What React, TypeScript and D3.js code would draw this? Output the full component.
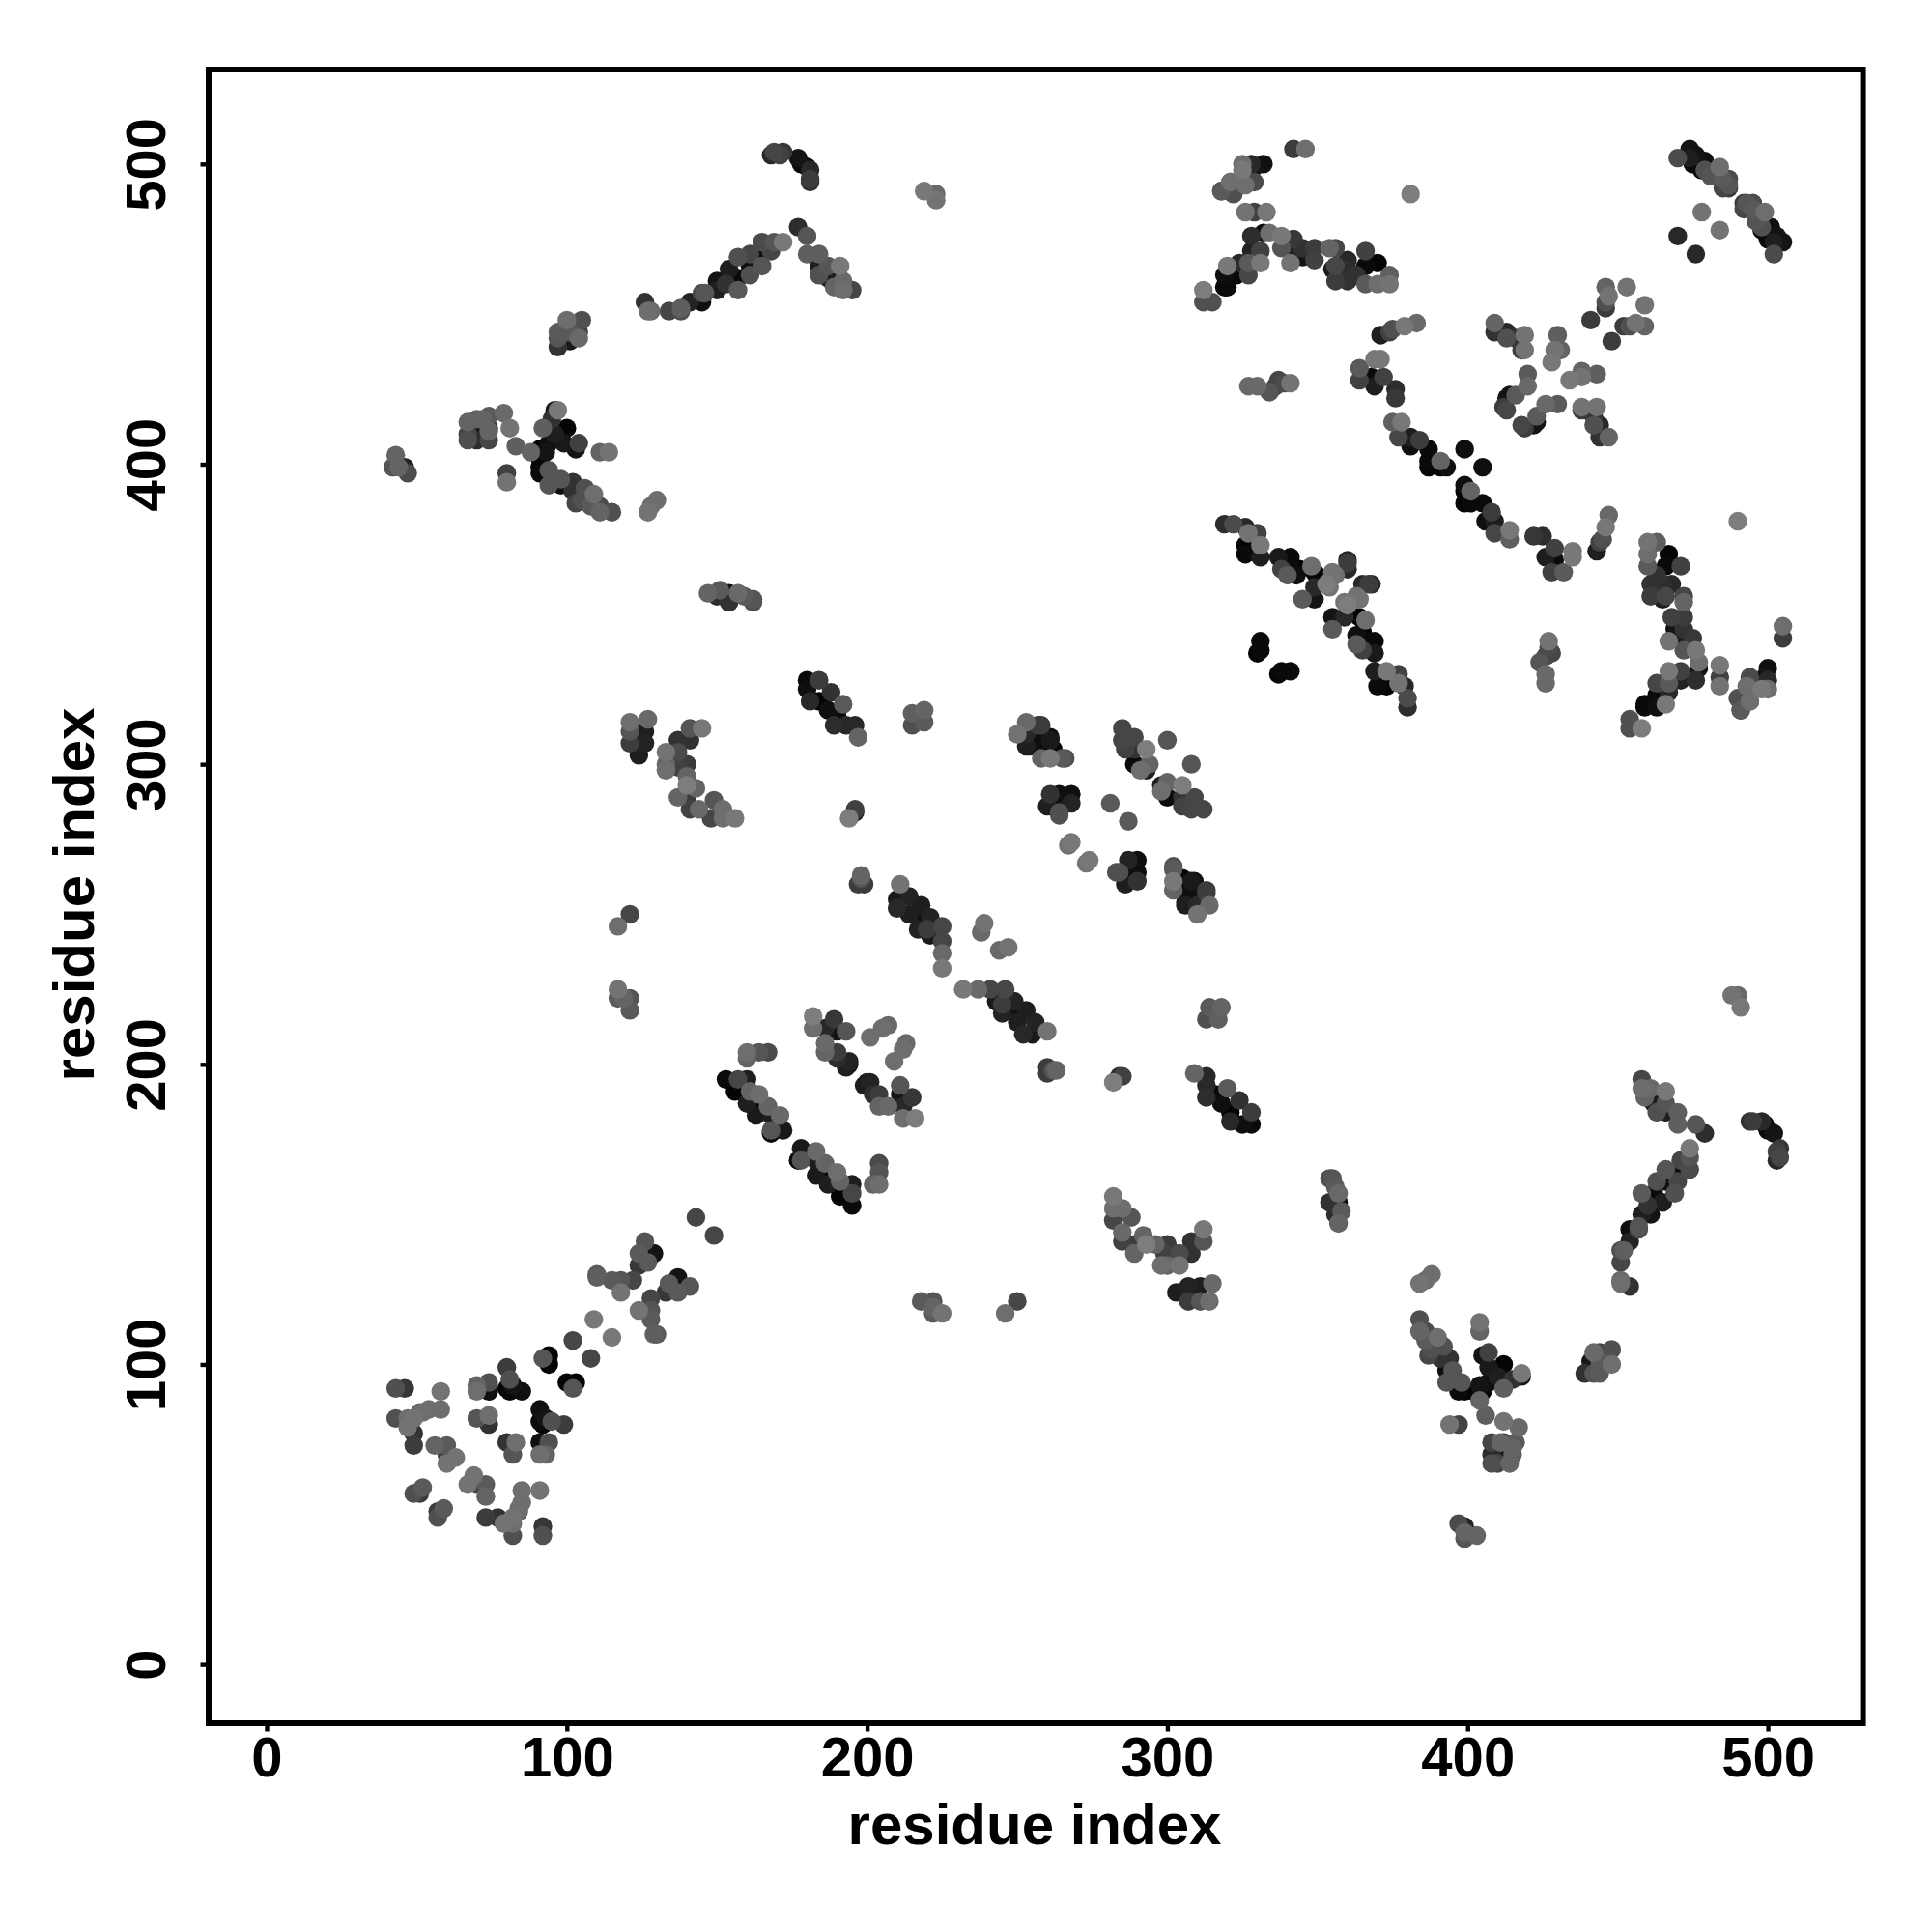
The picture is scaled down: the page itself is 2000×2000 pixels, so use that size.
import * as d3 from "d3";
import { useEffect, useRef } from "react";

// each contact is [residue i, residue j, grey level of the dot]; the map is symmetric
type Contact = [number, number, number];

const xTicks = [0, 100, 200, 300, 400, 500];
const yTicks = [0, 100, 200, 300, 400, 500];
const axisLabel = "residue index";

const nTerminalBlock: Contact[] = [
  [43,92,80],[46,92,55],[58,91,115],[43,82,80],[47,82,110],[51,84,100],[54,85,110],[58,85,110],[49,77,50],[49,73,60],
  [56,73,100],[60,73,90],[60,67,115],[63,69,115],[60,70,70],[51,57,60],[49,57,80],[52,59,90],[52,84,110],[49,82,115],[47,79,115],
  [70,93,100],[70,91,110],[74,94,80],[74,91,15],[80,99,60],[81,95,80],[80,92,5],[82,93,20],[85,91,15],[81,91,10],
  [70,82,85],[74,83,110],[74,80,50],[92,102,85],[94,103,5],[94,100,5],
];

const earlyDiagonal: Contact[] = [
  [126,141,85],[124,137,90],[129,137,20],[127,134,90],[124,133,55],[110,130,90],[110,129,95],[115,128,90],[118,124,115],[118,128,85],[122,128,70],
  [109,115,120],[102,108,70],[143,149,70],
];

const strandPairs: Contact[] = [
  [153,195,10],[157,195,70],[160,195,30],[156,191,5],[161,191,100],[164,190,110],[160,187,30],[163,187,5],[163,183,25],[167,186,100],[168,183,30],
  [171,183,105],[168,178,85],[168,177,10],[172,178,25],
  [160,204,110],[164,204,85],[167,204,75],[160,202,100],
  [182,216,125],[182,212,110],[189,215,55],[186,212,40],[190,211,20],[193,211,85],[186,207,105],[186,204,100],[190,204,60],[190,202,45],[194,201,35],[194,200,25],
  [201,209,110],[205,212,110],[207,213,105],[193,199,30],
  [117,246,110],[121,250,70],[117,225,115],[117,222,90],[121,222,85],[121,218,90],[119,222,100],
];

const middleHairpin: Contact[] = [
  [211,260,115],[214,256,35],[210,255,25],[210,252,40],[214,250,30],[218,253,30],[218,249,15],[217,245,35],[221,249,35],[221,243,25],[225,246,70],[225,241,70],[225,237,105],[225,232,120],
  [239,247,115],[238,244,105],[220,245,60],
];

const midLeftPatch: Contact[] = [
  [121,314,110],[127,315,105],[126,311,30],[121,311,85],[121,307,60],[124,307,20],[126,307,35],[124,303,30],[123,310,10],
  [141,312,85],[145,312,120],[137,308,50],[141,308,50],[133,304,115],[137,304,75],[133,298,110],[133,300,100],[137,299,65],[140,300,60],[140,296,100],[140,293,125],
  [143,292,100],[137,289,100],[140,289,60],[141,285,65],[144,285,105],[149,288,85],[148,282,70],[152,285,110],[152,282,110],[156,282,120],
  [180,328,10],[180,325,15],[184,328,60],[181,321,40],[184,321,5],[188,324,50],[187,318,15],[192,320,90],[189,313,45],[193,313,40],[196,313,40],[197,309,100],[190,316,10],
  [215,317,95],[219,318,100],[219,314,90],[215,313,80],
  [196,285,65],[194,282,125],[196,284,40],[198,263,100],[197,260,60],[199,260,60],[198,262,85],
];

const midRightPatch: Contact[] = [
  [253,314,105],[250,310,115],[253,310,40],[257,313,60],[257,307,15],[253,306,30],[261,308,25],[258,302,100],[261,302,120],[265,302,90],[266,302,80],
  [264,284,80],[268,287,35],[268,290,15],[264,287,15],[264,290,15],[260,286,30],[261,290,50],[264,283,80],
  [262,305,5],[261,309,15],[258,305,5],[254,306,15],[258,309,10],[258,313,60],
  [268,274,120],[267,273,115],[281,287,90],[300,308,85],
  [285,312,70],[285,308,70],[289,309,70],[286,305,65],[289,305,50],[293,305,125],[289,300,10],[293,298,30],[294,300,100],[291,298,110],
  [331,341,10],[331,338,10],[330,337,5],
];

const lateRowLeft: Contact[] = [
  [43,403,100],[42,399,85],[44,399,100],[46,399,35],[47,397,75],
  [67,414,100],[67,410,70],[67,408,80],[70,415,95],[70,411,20],[70,408,45],[72,415,100],[74,416,90],[74,412,40],[74,408,70],[74,411,100],[79,417,105],[81,412,115],[83,406,95],
  [80,397,65],[80,394,115],
  [97,418,120],[96,418,25],[95,415,50],[95,412,10],[100,412,5],[92,412,95],[96,410,30],[94,407,15],[91,405,5],[91,402,5],[88,404,100],[91,399,5],[104,407,65],[103,405,20],[99,407,25],[93,404,20],
  [111,404,100],[114,404,115],
  [94,398,85],[91,397,10],[94,393,85],[98,395,85],[98,393,15],[102,394,50],[102,391,50],[103,387,70],[106,392,80],[105,388,80],[109,390,110],[108,386,90],[111,386,75],[111,384,100],[115,384,80],
  [130,388,110],[128,386,110],[127,384,115],
  [147,357,100],[151,358,90],[150,356,45],[154,357,15],[157,357,105],[154,354,50],[162,355,85],[159,356,90],[162,354,80],
];

const lateRowTop: Contact[] = [
  [97,439,50],[97,442,85],[97,444,90],[101,441,25],[100,448,110],[101,444,90],[104,442,105],[104,444,70],[105,448,80],
  [126,454,50],[127,451,110],[128,451,105],[134,451,70],[138,452,95],[138,451,80],[141,454,35],[145,454,15],[145,457,75],[146,457,85],
  [150,461,20],[150,458,30],[153,460,50],[154,465,30],[157,462,10],[157,458,90],[157,469,80],[161,463,80],[161,466,15],[161,470,70],[164,469,15],[165,466,85],[165,474,75],[168,471,70],[169,474,85],[172,474,120],
  [177,479,45],[180,476,85],[180,470,95],[184,470,95],[184,466,30],[184,463,80],[187,466,85],[187,462,30],[189,459,100],[191,466,120],[192,461,105],[192,458,110],[195,458,70],
  [168,503,40],[169,504,70],[172,504,55],[171,503,65],[177,502,20],[178,500,10],[180,499,5],[181,498,40],[181,495,60],[181,494,50],
  [219,491,120],[223,490,105],[223,488,115],
];

const upperMiddle: Contact[] = [
  [325,500,110],[325,498,120],[328,500,40],[329,499,20],[332,500,15],[318,491,90],[318,491,60],[321,494,65],[322,490,80],[326,493,110],[326,494,65],[329,494,75],[321,494,110],
  [342,505,60],[346,505,110],
  [326,484,115],[329,484,65],[333,484,120],
  [328,476,45],[332,477,15],[334,477,110],[338,476,120],[338,472,85],[342,475,55],[341,471,30],[341,467,115],[345,472,50],[345,469,20],[349,472,60],[349,468,65],[354,472,100],[355,465,30],
  [328,471,35],[331,471,65],[331,467,120],[327,467,90],[324,467,40],[327,463,70],[320,466,120],[323,463,10],[319,463,15],[320,459,10],[319,459,10],
  [312,458,125],[312,454,80],[315,454,80],
  [356,472,70],[360,468,40],[360,465,45],[366,471,65],[360,461,50],[356,461,60],[366,466,10],[370,467,5],[366,460,90],[374,463,95],[370,460,110],[374,460,115],[356,466,70],[363,463,50],
  [381,490,125],
  [327,426,105],[330,426,105],[334,424,85],[337,428,70],[336,426,70],[341,427,115],[339,427,75],
];

const lateStrands: Contact[] = [
  [319,380,45],[322,380,75],[326,379,40],[327,377,115],[330,377,65],[331,373,120],[326,373,5],[326,370,10],[331,369,30],[337,369,25],[341,369,10],[338,365,65],[341,366,10],[344,365,5],[340,363,90],[343,363,15],[348,366,110],[349,364,5],[349,359,40],[345,355,90],[349,355,20],[353,360,125],[355,364,115],
  [356,363,110],[359,354,115],[363,355,115],[360,367,60],[365,360,40],[368,360,40],
  [371,443,30],[374,444,65],[375,445,80],[379,446,120],[383,447,105],
  [369,435,120],[371,435,120],[364,432,90],[364,428,65],[368,429,10],[369,426,30],[372,429,65],[376,425,45],[376,422,55],
  [375,414,95],[378,414,120],[377,409,70],[381,409,30],[381,406,15],[384,408,60],[387,405,10],[387,401,10],[391,401,100],[387,399,5],[391,399,5],[393,399,15],[399,405,15],
];

const upperCorner: Contact[] = [
  [446,459,100],[453,459,115],[447,456,115],[446,454,80],[446,452,60],[441,448,60],
  [409,447,100],[409,444,50],[413,444,40],[413,442,80],[419,443,115],[419,438,115],[416,442,50],[418,438,60],
  [430,443,95],[431,438,100],[429,438,115],[428,434,120],
  [420,430,90],[420,426,105],[416,423,90],[412,419,60],[413,422,20],[413,418,70],[414,423,20],
  [470,502,75],[474,505,20],[474,502,30],[476,503,20],[475,500,10],[479,501,15],[479,498,80],[478,498,10],[484,499,110],[481,496,85],[485,495,90],[487,495,75],[487,492,60],[487,493,85],[485,492,70],[482,497,75],
  [478,484,115],[470,476,40],
];

const contactGroups = [nTerminalBlock, earlyDiagonal, strandPairs, middleHairpin, midLeftPatch, midRightPatch, lateRowLeft, lateRowTop, upperMiddle, lateStrands, upperCorner];

export default function App() {
  const svgRef = useRef<SVGSVGElement | null>(null);

  useEffect(() => {
    const svg = d3.select(svgRef.current);
    svg.selectAll("*").remove();

    const box = { left: 216, right: 1928.6, top: 72, bottom: 1784 };
    const x = d3.scaleLinear().domain([-19.3, 531.7]).range([box.left, box.right]);
    const y = d3.scaleLinear().domain([-19.6, 531.5]).range([box.bottom, box.top]);
    const grey = d3.scaleLinear<string>().domain([0, 130]).range(["#000000", "#828282"]);

    // mirror the upper triangle, then draw the dark dots first so the grey ones sit on top
    const contacts = contactGroups.flat();
    const dots = [...contacts, ...contacts.map(([i, j, g]) => [j, i, g] as Contact)].sort(
      (a, b) => a[2] - b[2]
    );

    svg
      .append("g")
      .selectAll("circle")
      .data(dots)
      .join("circle")
      .attr("cx", (d) => x(d[0]))
      .attr("cy", (d) => y(d[1]))
      .attr("r", 9.7)
      .attr("fill", (d) => grey(d[2]));

    svg
      .append("rect")
      .attr("x", box.left)
      .attr("y", box.top)
      .attr("width", box.right - box.left)
      .attr("height", box.bottom - box.top)
      .attr("fill", "none")
      .attr("stroke", "#000")
      .attr("stroke-width", 6);

    const font = "'Liberation Sans', Arial, sans-serif";

    const xAxis = svg
      .append("g")
      .attr("transform", `translate(0,${box.bottom})`)
      .call(d3.axisBottom(x).tickValues(xTicks).tickSize(8.5).tickPadding(10));
    xAxis.select(".domain").remove();
    xAxis.selectAll("line").attr("stroke", "#000").attr("stroke-width", 4.4);
    xAxis
      .selectAll("text")
      .attr("font-family", font)
      .attr("font-weight", 700)
      .attr("font-size", 58)
      .attr("fill", "#000")
      .attr("dy", null)
      .attr("y", 55);

    const yAxis = svg
      .append("g")
      .attr("transform", `translate(${box.left},0)`)
      .call(d3.axisLeft(y).tickValues(yTicks).tickSize(8.5));
    yAxis.select(".domain").remove();
    yAxis.selectAll("line").attr("stroke", "#000").attr("stroke-width", 4.4);
    yAxis
      .selectAll("text")
      .attr("font-family", font)
      .attr("font-weight", 700)
      .attr("font-size", 58)
      .attr("fill", "#000")
      .attr("text-anchor", "middle")
      .attr("dy", null)
      .attr("x", null)
      .attr("transform", "translate(-45,0) rotate(-90)");

    svg
      .append("text")
      .attr("x", 1071)
      .attr("y", 1909)
      .attr("text-anchor", "middle")
      .attr("font-family", font)
      .attr("font-weight", 700)
      .attr("font-size", 60)
      .text(axisLabel);

    svg
      .append("text")
      .attr("transform", "translate(97,926) rotate(-90)")
      .attr("text-anchor", "middle")
      .attr("font-family", font)
      .attr("font-weight", 700)
      .attr("font-size", 60)
      .text(axisLabel);
  }, []);

  return <svg ref={svgRef} width={2000} height={2000} style={{ position: "absolute", left: 0, top: 0, background: "#fff" }} />;
}
